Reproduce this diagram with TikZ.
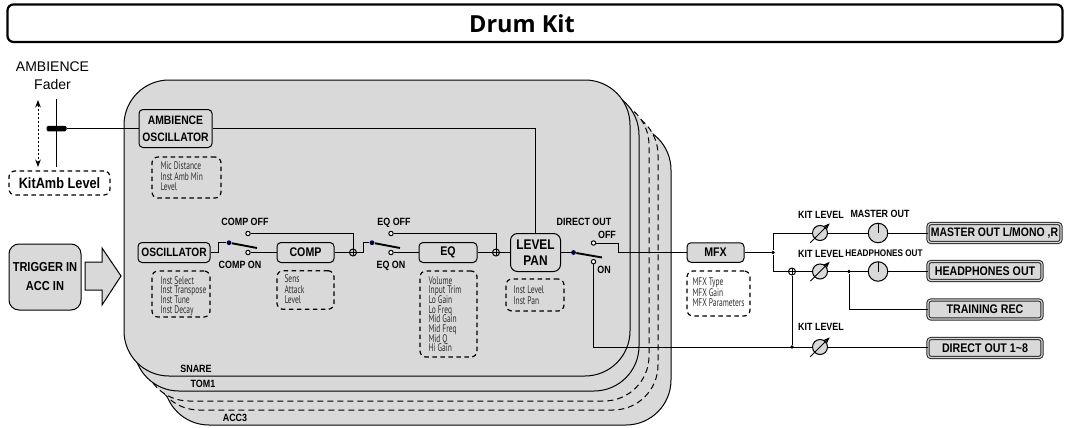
\documentclass[tikz,border=0pt]{standalone}
\usepackage{fontspec}
\setmainfont{Liberation Sans}
\newfontfamily\labelfont[FakeStretch=0.85]{Liberation Sans}
\newfontfamily\paramfont[FakeStretch=0.68]{PT Sans}
\newfontfamily\titlefont{Open Sans}
\usetikzlibrary{arrows.meta, positioning}
\definecolor{panel}{HTML}{D9D9D9}
\definecolor{paramtext}{HTML}{2E2E2E}
\setlength{\lineskiplimit}{-6pt}
\setlength{\normallineskiplimit}{-6pt}

\begin{document}
\begin{tikzpicture}[x=1pt, y=-1pt, >=Stealth, line width=1pt,
  layer/.style={draw, fill=panel, rounded corners=45pt},
  b/.style={draw, rounded corners=4pt, fill=panel, align=center, inner sep=0pt, font=\labelfont\fontsize{12.5}{15}\selectfont\bfseries},
  outbox/.style={b, double=panel, double distance=1.2pt, draw=black!85, rounded corners=3pt, minimum width=114pt, minimum height=19pt},
  par/.style={draw, dashed, line width=1.2pt, dash pattern=on 4.5pt off 3.5pt, rounded corners=6pt},
  partext/.style={anchor=north west, inner sep=0pt, align=left, text=paramtext, font=\paramfont\fontsize{11}{9.65}\selectfont},
  partextwide/.style={partext, font=\paramfont\fontsize{11}{10.4}\selectfont},
  lab/.style={inner sep=0pt, font=\labelfont\fontsize{10.5}{12}\selectfont\bfseries},
  contact/.style={circle, draw, fill=white, inner sep=0pt, minimum size=4.4pt},
  pivot/.style={circle, fill=black!70!blue, inner sep=0pt, minimum size=4.8pt},
  dot/.style={circle, fill=black, inner sep=0pt, minimum size=3.6pt},
  sum/.style={circle, draw, inner sep=0pt, minimum size=7pt, path picture={
    \draw[line width=0.7pt] (path picture bounding box.north) -- (path picture bounding box.south);
    \draw[line width=0.7pt] (path picture bounding box.west) -- (path picture bounding box.east);}},
  trimmer/.style={circle, draw, fill=panel, inner sep=0pt, minimum size=15pt},
  knob/.style={circle, draw, fill=panel, inner sep=0pt, minimum size=19.5pt, path picture={
    \draw (path picture bounding box.center) -- (path picture bounding box.north);}},
  lever/.style={line width=1.9pt}]
\useasboundingbox (0,0) rectangle (1065,428);

\node[draw, line width=2.2pt, rounded corners=6pt, minimum width=1055pt, minimum height=37.5pt, inner sep=0pt] (title) at (535,23.2) {};
\node[inner sep=0pt, font=\titlefont\fontsize{23.5}{28}\selectfont\bfseries] (titletext) at (522,23.2) {Drum Kit};

\draw[layer] (164,125) rectangle (671,425);
\draw[layer, dashed, dash pattern=on 6pt off 4pt] (154,110) rectangle (658,410);
\draw[layer, dashed, dash pattern=on 6pt off 4pt] (144,100) rectangle (649,401);
\draw[layer] (134,90) rectangle (639,391);
\draw[layer] (124,80) rectangle (630,376);

\node[lab] (snare) at (196,369) {SNARE};
\node[lab] (tom) at (203,384) {TOM1};
\node[lab] (acc) at (235,418) {ACC3};

\node[inner sep=0pt, font=\fontsize{14}{18}\selectfont, align=center] (fadertitle) at (52.5,76) {AMBIENCE\\Fader};
\coordinate (fadertop) at (56.5,99);
\coordinate (faderbot) at (56.5,167);
\coordinate (arrowtop) at (38,100);
\coordinate (arrowbot) at (38,167);
\draw[line width=1.8pt] (fadertop) -- (faderbot);
\draw[<->, dashed, dash pattern=on 2.5pt off 1.5pt] (arrowtop) -- (arrowbot);
\node[fill=black, rounded corners=1.5pt, minimum width=20pt, minimum height=5.5pt, inner sep=0pt] (fader) at (56.5,128.5) {};
\node[par, minimum width=101pt, minimum height=24pt, inner sep=0pt, font=\labelfont\fontsize{15}{18}\selectfont\bfseries] (kitamb) at (59.5,183) {KitAmb Level};

\node[b, rounded corners=10pt, font=\labelfont\fontsize{13}{19}\selectfont\bfseries, minimum width=72pt, minimum height=66pt] (trig) at (45,277) {TRIGGER IN\\ACC IN};
\coordinate (block) at (85,262);
\draw[fill=panel] (block) -- (102,262) -- (102,248) -- (121,276) -- (102,305) -- (102,290) -- (85,290) -- cycle;

\node[b, font=\labelfont\fontsize{12.2}{17}\selectfont\bfseries, minimum width=73pt, minimum height=38pt] (ambosc) at (175.5,128.5) {AMBIENCE\\OSCILLATOR};
\node[b, font=\labelfont\fontsize{12}{15}\selectfont\bfseries, minimum width=72pt, minimum height=20pt] (osc) at (174,252.5) {OSCILLATOR};
\node[b, minimum width=57pt, minimum height=20pt] (comp) at (305.5,252.5) {COMP};
\node[b, minimum width=58pt, minimum height=20pt] (eq) at (448,252.5) {EQ};
\node[b, font=\labelfont\fontsize{14}{16.5}\selectfont\bfseries, rounded corners=7pt, minimum width=50pt, minimum height=38pt] (lvl) at (535.5,252.5) {LEVEL\\PAN};
\node[b, minimum width=57pt, minimum height=19.5pt] (mfx) at (715.5,252.5) {MFX};

\node[par, minimum width=69pt, minimum height=41pt] (ambpar) at (186.5,177.5) {};
\node[partextwide] (ambtxt) at (160,161.5) {Mic Distance\\Inst Amb Min\\Level};
\node[par, minimum width=58pt, minimum height=46pt] (oscpar) at (181,294) {};
\node[partext] (osctxt) at (160,276) {Inst Select\\Inst Transpose\\Inst Tune\\Inst Decay};
\node[par, minimum width=57pt, minimum height=38.5pt] (comppar) at (305.5,290) {};
\node[partextwide] (comptxt) at (284,274.5) {Sens\\Attack\\Level};
\node[par, minimum width=57pt, minimum height=86pt] (eqpar) at (448.5,314) {};
\node[partext] (eqtxt) at (428,276) {Volume\\Input Trim\\Lo Gain\\Lo Freq\\Mid Gain\\Mid Freq\\Mid Q\\Hi Gain};
\node[par, minimum width=58pt, minimum height=32pt] (lvlpar) at (535,295) {};
\node[partextwide] (lvltxt) at (513,285.5) {Inst Level\\Inst Pan};
\node[par, minimum width=63pt, minimum height=45pt] (mfxpar) at (718.5,293.5) {};
\node[partextwide] (mfxtxt) at (692,277.5) {MFX Type\\MFX Gain\\MFX Parameters};

\node[pivot] (pivcomp) at (229,242.7) {};
\coordinate (levcomp) at (257,248);
\node[contact] (offcomp) at (248,233.5) {};
\node[contact] (oncomp) at (248,252.5) {};
\node[sum] (sumcomp) at (353,252.5) {};
\node[pivot] (piveq) at (372,242.7) {};
\coordinate (leveq) at (400,248);
\node[contact] (offeq) at (391,233.5) {};
\node[contact] (oneq) at (391,252.5) {};
\node[sum] (sumeq) at (496,252.5) {};
\node[pivot] (pivdir) at (573.5,252.5) {};
\coordinate (levdir) at (602,257.5);
\node[contact] (offdir) at (593.5,243) {};
\node[contact] (ondir) at (593.5,261.7) {};

\node[lab] (lcompoff) at (245,222) {COMP OFF};
\node[lab] (lcompon) at (240,264.5) {COMP ON};
\node[lab] (leqoff) at (394,223) {EQ OFF};
\node[lab] (leqon) at (391,266) {EQ ON};
\node[lab] (ldirect) at (584,222) {DIRECT OUT};
\node[lab] (ldiroff) at (607,235) {OFF};
\node[lab] (ldiron) at (604,270) {ON};

\draw (fader) -- (ambosc);
\draw (ambosc.east) -| (lvl.north);
\draw (osc.east) -- (218,252.5) |- (pivcomp);
\draw[lever] (pivcomp) -- (levcomp);
\draw (oncomp) -- (comp);
\draw (offcomp) -| (sumcomp);
\draw (comp) -- (sumcomp);
\draw (sumcomp) -- (363,252.5) |- (piveq);
\draw[lever] (piveq) -- (leveq);
\draw (oneq) -- (eq);
\draw (offeq) -| (sumeq);
\draw (eq) -- (sumeq);
\draw (sumeq) -- (lvl);
\draw (lvl) -- (pivdir);
\draw[lever] (pivdir) -- (levdir);
\draw (offdir) -- (618,243) |- (mfx.west);

\node[dot] (split) at (773,252.5) {};
\node[trimmer] (trimma) at (820,233) {};
\node[trimmer] (trimhp) at (820,271.5) {};
\node[trimmer] (trimdir) at (820,347) {};
\node[knob] (knobma) at (878,233) {};
\node[knob] (knobhp) at (878,271.5) {};
\node[sum] (sumhp) at (792,271.5) {};
\node[dot] (dothp) at (849,271.5) {};
\node[dot] (dotdir) at (792,347) {};
\node[outbox, minimum width=133pt, font=\labelfont\fontsize{12.3}{15}\selectfont\bfseries] (outma) at (994.5,233) {MASTER OUT L/MONO ,R};
\node[outbox] (outhp) at (985,271) {HEADPHONES OUT};
\node[outbox] (outrec) at (985,309.5) {TRAINING REC};
\node[outbox] (outdir) at (985,348) {DIRECT OUT 1\textasciitilde 8};

\node[lab] (lkit1) at (821,215) {KIT LEVEL};
\node[lab] (lmaster) at (880,214) {MASTER OUT};
\node[lab] (lkit2) at (821,254) {KIT LEVEL};
\node[lab, font=\labelfont\fontsize{9.6}{12}\selectfont\bfseries] (lhead) at (884,253) {HEADPHONES OUT};
\node[lab] (lkit3) at (821,327) {KIT LEVEL};

\draw (ondir) |- (trimdir);
\draw (trimdir) -- (outdir.west |- trimdir);
\draw (mfx) -- (split);
\draw (split) |- (trimma);
\draw (split) |- (sumhp);
\draw (sumhp) -- (trimhp);
\draw (sumhp) -- (dotdir);
\draw (trimma) -- (knobma);
\draw (knobma) -- (outma);
\draw (trimhp) -- (knobhp);
\draw (knobhp) -- (outhp.west |- knobhp);
\draw (dothp) |- (outrec);
\draw[->, line width=0.9pt] ([shift={(-4,4)}]trimma.south west) -- ([shift={(4,-4)}]trimma.north east);
\draw[->, line width=0.9pt] ([shift={(-4,4)}]trimhp.south west) -- ([shift={(4,-4)}]trimhp.north east);
\draw[->, line width=0.9pt] ([shift={(-4,4)}]trimdir.south west) -- ([shift={(4,-4)}]trimdir.north east);
\end{tikzpicture}
\end{document}
